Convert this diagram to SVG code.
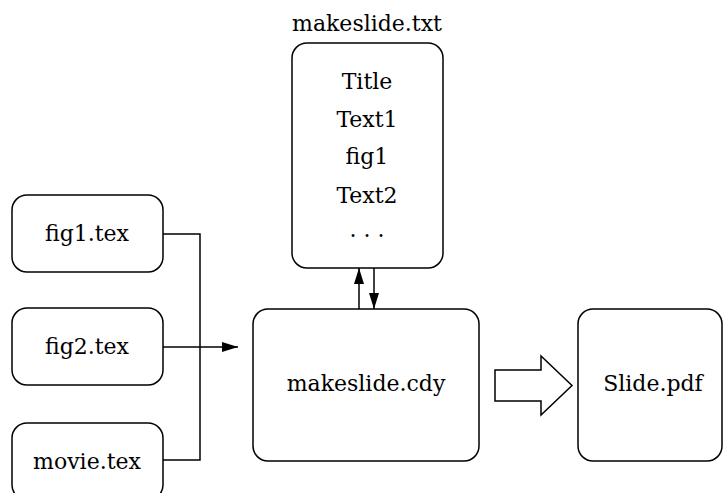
<svg xmlns="http://www.w3.org/2000/svg" width="724" height="493" viewBox="0 0 724 493">
<style>
.box{fill:#fff;stroke:#000;stroke-width:1.5}
.t{font-size:22px;text-anchor:middle;fill:#000}
.c{fill:none;stroke:#000;stroke-width:1.5}
</style>
<defs>
<marker id="ah" markerWidth="16" markerHeight="10" refX="16" refY="5" orient="auto" markerUnits="userSpaceOnUse">
<path d="M0,0 L16,5 L0,10 Z" fill="#000"/>
</marker>
</defs>
<rect width="724" height="493" fill="#fff"/>
<g font-family="'DejaVu Serif', 'Liberation Serif', serif">
<g id="makeslide-txt">
<text class="t" x="367" y="31">makeslide.txt</text>
<rect class="box" x="292" y="43" width="151" height="225" rx="15"/>
<text class="t" x="367" y="89">Title</text>
<text class="t" x="367" y="127">Text1</text>
<text class="t" x="367" y="164">fig1</text>
<text class="t" x="367" y="203">Text2</text>
<text class="t" x="367" y="237">. . .</text>
</g>
<g id="fig1-tex">
<rect class="box" x="12" y="195" width="151" height="77" rx="15"/>
<text class="t" x="87" y="241">fig1.tex</text>
</g>
<g id="fig2-tex">
<rect class="box" x="12" y="308" width="151" height="77" rx="15"/>
<text class="t" x="87" y="354">fig2.tex</text>
</g>
<g id="movie-tex">
<rect class="box" x="12" y="423" width="151" height="77" rx="15"/>
<text class="t" x="87" y="469">movie.tex</text>
</g>
<g id="makeslide-cdy">
<rect class="box" x="253" y="309" width="226" height="152" rx="15"/>
<text class="t" x="366" y="391">makeslide.cdy</text>
</g>
<g id="slide-pdf">
<rect class="box" x="578" y="309" width="144" height="152" rx="15"/>
<text class="t" x="653" y="391">Slide.pdf</text>
</g>
</g>
<g id="connectors">
<path class="c" d="M163,234 H200 V460 H163"/>
<path class="c" d="M163,347 H238" marker-end="url(#ah)"/>
<path class="c" d="M359,309 V268" marker-end="url(#ah)"/>
<path class="c" d="M374,268 V309" marker-end="url(#ah)"/>
<path class="c" d="M495,370 H541 V356 L572,385.5 L541,415 V401 H495 Z"/>
</g>
</svg>
